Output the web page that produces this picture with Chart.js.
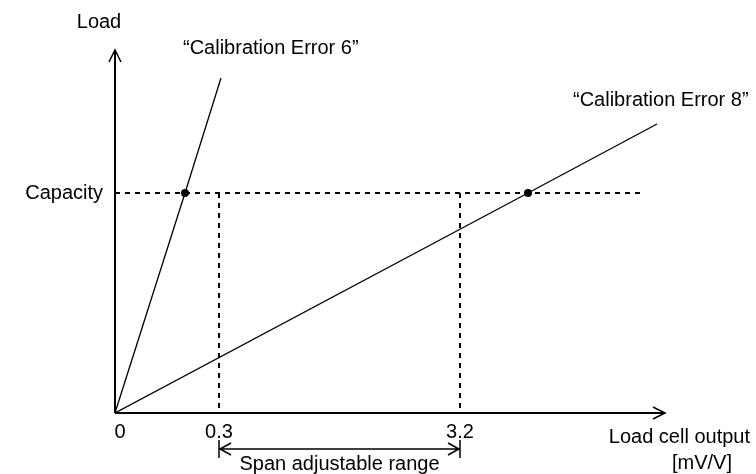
<!DOCTYPE html>
<html>
<head>
<meta charset="utf-8">
<script src="https://cdn.jsdelivr.net/npm/chart.js@4/dist/chart.umd.min.js"></script>
<style>
  html, body { margin: 0; padding: 0; background: #fff; }
  #wrap { width: 756px; height: 474px; }
</style>
</head>
<body>
<div id="wrap"><canvas id="c" width="756" height="474"></canvas></div>
<script>
// Schematic units: x = load cell output position, y = load
const axisMaxX = 550;
const axisMaxY = 363;

const capacity = 220;

const xTickLabels = ['0', '0.3', '3.2'];
const xTickValues = [0, 104, 345];

// Span adjustable range (between the 0.3 and 3.2 marks)
const spanRange = [104, 345];

const err6Name = '\u201CCalibration Error 6\u201D';
const err6Line = [{ x: 0, y: 0 }, { x: 70, y: 220 }, { x: 106, y: 335 }];
const err6Dot = 1;

const err8Name = '\u201CCalibration Error 8\u201D';
const err8Line = [{ x: 0, y: 0 }, { x: 413, y: 220 }, { x: 542, y: 289 }];
const err8Dot = 1;

const capacityLine = [{ x: 0, y: capacity }, { x: 525, y: capacity }];

const FONT = '"Liberation Sans", Arial, sans-serif';
const FS = 20;

function radii(n, idx) { return Array.from({ length: n }, (_, i) => (i === idx ? 4 : 0)); }

const diagram = {
  id: 'diagram',
  afterDatasetsDraw(chart) {
    const ctx = chart.ctx;
    const xs = chart.scales.x, ys = chart.scales.y;
    const X = v => xs.getPixelForValue(v);
    const Y = v => ys.getPixelForValue(v);
    const x0 = X(0), y0 = Y(0);

    ctx.save();
    ctx.strokeStyle = '#000';
    ctx.fillStyle = '#000';
    ctx.lineCap = 'butt';

    // dashed verticals from capacity down to the x axis
    ctx.setLineDash([5, 5]);
    ctx.lineWidth = 2;
    xTickValues.slice(1).forEach(v => {
      ctx.beginPath();
      ctx.moveTo(X(v), Y(capacity));
      ctx.lineTo(X(v), y0);
      ctx.stroke();
    });
    ctx.setLineDash([]);

    // axes with open arrow heads
    ctx.lineWidth = 2;
    ctx.beginPath();
    ctx.moveTo(x0, y0); ctx.lineTo(x0, Y(axisMaxY));
    ctx.moveTo(x0, y0); ctx.lineTo(X(axisMaxX), y0);
    ctx.stroke();
    ctx.lineWidth = 1.5;
    const tY = Y(axisMaxY), tX = X(axisMaxX);
    ctx.beginPath();
    ctx.moveTo(x0 - 6, tY + 12); ctx.lineTo(x0, tY); ctx.lineTo(x0 + 6, tY + 12);
    ctx.moveTo(tX - 12, y0 - 6); ctx.lineTo(tX, y0); ctx.lineTo(tX - 12, y0 + 6);
    ctx.stroke();

    // span adjustable range arrow
    const sy = y0 + 36;
    const sa = X(spanRange[0]), sb = X(spanRange[1]);
    ctx.lineWidth = 1.5;
    ctx.beginPath();
    ctx.moveTo(sa, sy - 9); ctx.lineTo(sa, sy + 9);
    ctx.moveTo(sb, sy - 9); ctx.lineTo(sb, sy + 9);
    ctx.moveTo(sa, sy); ctx.lineTo(sb, sy);
    ctx.moveTo(sa + 12, sy - 6); ctx.lineTo(sa + 1, sy); ctx.lineTo(sa + 12, sy + 6);
    ctx.moveTo(sb - 12, sy - 6); ctx.lineTo(sb - 1, sy); ctx.lineTo(sb - 12, sy + 6);
    ctx.stroke();

    // texts
    ctx.font = FS + 'px ' + FONT;
    ctx.textBaseline = 'middle';
    ctx.textAlign = 'center';
    ctx.fillText('Load', x0 - 16, 22);
    xTickLabels.forEach((t, i) => ctx.fillText(t, X(xTickValues[i]) + (i === 0 ? 5 : 0), y0 + 19));
    ctx.fillText('Span adjustable range', (sa + sb) / 2, y0 + 51);
    ctx.textAlign = 'right';
    ctx.fillText('Capacity', x0 - 12, Y(capacity));
    ctx.fillText('Load cell output', 750, y0 + 24);
    ctx.fillText('[mV/V]', 732, y0 + 50);
    ctx.textAlign = 'left';
    ctx.fillText(err6Name, 183, 48);
    ctx.fillText(err8Name, 573, 100);
    ctx.restore();
  }
};

new Chart(document.getElementById('c'), {
  type: 'scatter',
  data: {
    datasets: [
      {
        label: 'Capacity',
        data: capacityLine,
        showLine: true,
        borderColor: '#000',
        borderWidth: 2,
        borderDash: [5, 5],
        pointRadius: 0
      },
      {
        label: err6Name,
        data: err6Line,
        showLine: true,
        borderColor: '#000',
        backgroundColor: '#000',
        borderWidth: 1.3,
        pointRadius: radii(err6Line.length, err6Dot),
        pointBorderWidth: 0
      },
      {
        label: err8Name,
        data: err8Line,
        showLine: true,
        borderColor: '#000',
        backgroundColor: '#000',
        borderWidth: 1.3,
        pointRadius: radii(err8Line.length, err8Dot),
        pointBorderWidth: 0
      }
    ]
  },
  options: {
    responsive: false,
    animation: false,
    events: [],
    layout: { padding: { left: 115, right: 91, top: 50, bottom: 61 } },
    plugins: { legend: { display: false }, tooltip: { enabled: false } },
    scales: {
      x: { type: 'linear', min: 0, max: axisMaxX, display: false },
      y: { type: 'linear', min: 0, max: axisMaxY, display: false }
    }
  },
  plugins: [diagram]
});
</script>
</body>
</html>
